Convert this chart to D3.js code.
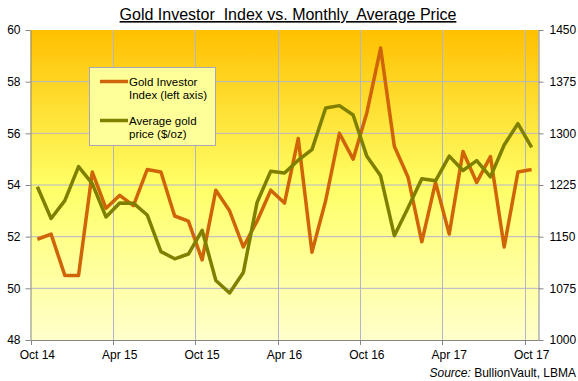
<!DOCTYPE html>
<html>
<head>
<meta charset="utf-8">
<script src="https://cdn.jsdelivr.net/npm/d3@7"></script>
<style>
  body { margin: 0; background: #fff; }
  svg text { font-family: "Liberation Sans", Arial, sans-serif; }
</style>
</head>
<body>
<div id="chart"></div>
<script>
// months shown on the category axis (Oct 2014 - Oct 2017)
let months = [
    'Oct 14', 'Nov 14', 'Dec 14', 'Jan 15', 'Feb 15', 'Mar 15', 'Apr 15', 'May 15', 'Jun 15', 'Jul 15',
    'Aug 15', 'Sep 15', 'Oct 15', 'Nov 15', 'Dec 15', 'Jan 16', 'Feb 16', 'Mar 16', 'Apr 16', 'May 16',
    'Jun 16', 'Jul 16', 'Aug 16', 'Sep 16', 'Oct 16', 'Nov 16', 'Dec 16', 'Jan 17', 'Feb 17', 'Mar 17',
    'Apr 17', 'May 17', 'Jun 17', 'Jul 17', 'Aug 17', 'Sep 17', 'Oct 17'
];

// Gold Investor Index (left axis)
let investorIndex = [
    51.9, 52.1, 50.5, 50.5, 54.5, 53.1, 53.6, 53.2, 54.6, 54.5,
    52.8, 52.6, 51.1, 53.8, 53.0, 51.6, 52.6, 53.8, 53.3, 55.8,
    51.4, 53.4, 56.0, 55.0, 56.8, 59.3, 55.5, 54.3, 51.8, 54.1,
    52.1, 55.3, 54.1, 55.1, 51.6, 54.5, 54.6
];

// average gold price, $/oz (right axis)
let goldPrice = [
    1222.5, 1176.3, 1202.3, 1251.8, 1227.1, 1178.6, 1198.9, 1198.6, 1181.5, 1128.3,
    1117.9, 1124.8, 1159.3, 1086.4, 1068.3, 1097.9, 1199.5, 1245.1, 1242.3, 1261.0,
    1276.4, 1336.7, 1340.2, 1326.6, 1266.6, 1238.4, 1151.4, 1192.1, 1234.2, 1231.1,
    1266.9, 1246.0, 1260.3, 1236.8, 1283.0, 1314.1, 1279.5
];

// tick labels
let leftTicks = [48, 50, 52, 54, 56, 58, 60];
let rightTicks = [1000, 1075, 1150, 1225, 1300, 1375, 1450];
let xTickLabels = ['Oct 14', 'Apr 15', 'Oct 15', 'Apr 16', 'Oct 16', 'Apr 17', 'Oct 17'];

let dim = { 'width': 578, 'height': 381 };
let plot = { left: 30.5, right: 538.5, top: 30, bottom: 340 };

let svg = d3.select('#chart')
    .append('svg')
    .attr('width', dim.width)
    .attr('height', dim.height);

// gradient background of the plot area
let grad = svg.append('defs').append('linearGradient')
    .attr('id', 'bg')
    .attr('x1', 0).attr('y1', 0).attr('x2', 0).attr('y2', 1);
grad.append('stop').attr('offset', '0%').attr('stop-color', '#FFC000');
grad.append('stop').attr('offset', '50%').attr('stop-color', '#FFFF66');
grad.append('stop').attr('offset', '100%').attr('stop-color', '#FFFFCC');

// scales
let x = d3.scaleBand()
    .domain(months)
    .range([plot.left, plot.right])
    .padding(0);
let yLeft = d3.scaleLinear().domain([48, 60]).range([plot.bottom, plot.top]);
let yRight = d3.scaleLinear().domain([1000, 1450]).range([plot.bottom, plot.top]);
let cx = d => x(d) + x.bandwidth() / 2;

svg.append('rect')
    .attr('x', plot.left)
    .attr('y', plot.top)
    .attr('width', plot.right - plot.left)
    .attr('height', plot.bottom - plot.top)
    .attr('fill', 'url(#bg)');

// gridlines
let gridColor = '#B4B4CC';
svg.append('g').selectAll('line')
    .data(leftTicks.slice(1, -1))
    .join('line')
    .attr('x1', plot.left).attr('x2', plot.right)
    .attr('y1', d => yLeft(d)).attr('y2', d => yLeft(d))
    .attr('stroke', gridColor).attr('stroke-width', 1);

svg.append('g').selectAll('line')
    .data(xTickLabels.slice(1))
    .join('line')
    .attr('x1', d => Math.round(x(d)) + 0.5).attr('x2', d => Math.round(x(d)) + 0.5)
    .attr('y1', plot.top).attr('y2', plot.bottom)
    .attr('stroke', gridColor).attr('stroke-width', 1);

// axes
function styleAxis(axis) {
    axis.selectAll('.domain').attr('stroke', '#868686');
    axis.selectAll('line').attr('stroke', '#868686');
    axis.selectAll('text')
        .attr('font-size', '12px')
        .attr('fill', '#000')
        .attr('font-family', '"Liberation Sans", Arial, sans-serif');
}

let axisL = svg.append('g')
    .attr('transform', `translate(${plot.left}, 0)`)
    .call(d3.axisLeft(yLeft).tickValues(leftTicks).tickFormat(d3.format('d'))
        .tickSize(5).tickSizeOuter(0).tickPadding(5));
styleAxis(axisL);

let axisR = svg.append('g')
    .attr('transform', `translate(${plot.right}, 0)`)
    .call(d3.axisRight(yRight).tickValues(rightTicks).tickFormat(d3.format('d'))
        .tickSize(5).tickSizeOuter(0).tickPadding(6));
styleAxis(axisR);

// category axis: ticks between categories, labels centred on them
let axisB = svg.append('g');
axisB.append('line')
    .attr('x1', plot.left).attr('x2', plot.right)
    .attr('y1', plot.bottom + 0.5).attr('y2', plot.bottom + 0.5)
    .attr('stroke', '#868686');
axisB.selectAll('.tick')
    .data(xTickLabels)
    .join('line')
    .attr('class', 'tick')
    .attr('x1', d => Math.round(x(d)) + 0.5).attr('x2', d => Math.round(x(d)) + 0.5)
    .attr('y1', plot.bottom).attr('y2', plot.bottom + 5)
    .attr('stroke', '#868686');
axisB.selectAll('text')
    .data(xTickLabels)
    .join('text')
    .attr('x', d => cx(d))
    .attr('y', 359)
    .attr('text-anchor', 'middle')
    .attr('font-size', '12px')
    .text(d => d);

// lines
let lineLeft = d3.line()
    .x((d, i) => cx(months[i]))
    .y(d => yLeft(d));
let lineRight = d3.line()
    .x((d, i) => cx(months[i]))
    .y(d => yRight(d));

let orange = '#D06408';
let olive = '#7F7F00';

svg.append('path')
    .attr('d', lineLeft(investorIndex))
    .attr('fill', 'none')
    .attr('stroke', orange)
    .attr('stroke-width', 3.5)
    .attr('stroke-linejoin', 'round');

svg.append('path')
    .attr('d', lineRight(goldPrice))
    .attr('fill', 'none')
    .attr('stroke', olive)
    .attr('stroke-width', 3.5)
    .attr('stroke-linejoin', 'round');

// legend
let legend = svg.append('g');
legend.append('rect')
    .attr('x', 89.5).attr('y', 67.5)
    .attr('width', 126).attr('height', 78)
    .attr('fill', '#FFFF99')
    .attr('stroke', '#A8A8BC');

let legendItems = [
    { color: orange, y: 81.5, lines: ['Gold Investor', 'Index (left axis)'] },
    { color: olive, y: 120.5, lines: ['Average gold', 'price ($/oz)'] }
];
legendItems.forEach(item => {
    legend.append('line')
        .attr('x1', 100).attr('x2', 128)
        .attr('y1', item.y).attr('y2', item.y)
        .attr('stroke', item.color)
        .attr('stroke-width', 3.5);
    item.lines.forEach((t, k) => {
        legend.append('text')
            .attr('x', 129)
            .attr('y', item.y + 4 + k * 13)
            .attr('font-size', '11.5px')
            .attr('fill', '#000')
            .text(t);
    });
});

// title
let title = svg.append('text')
    .attr('x', 288)
    .attr('y', 20)
    .attr('text-anchor', 'middle')
    .attr('font-size', '16px')
    .attr('fill', '#000')
    .attr('text-decoration', 'underline')
    .style('white-space', 'pre')
    .text('Gold Investor  Index vs. Monthly  Average Price');

// source note
let source = svg.append('text')
    .attr('x', 576)
    .attr('y', 377)
    .attr('text-anchor', 'end')
    .attr('font-size', '12px')
    .attr('fill', '#000');
source.append('tspan').attr('font-style', 'italic').text('Source:');
source.append('tspan').text(' BullionVault, LBMA');
</script>
</body>
</html>
